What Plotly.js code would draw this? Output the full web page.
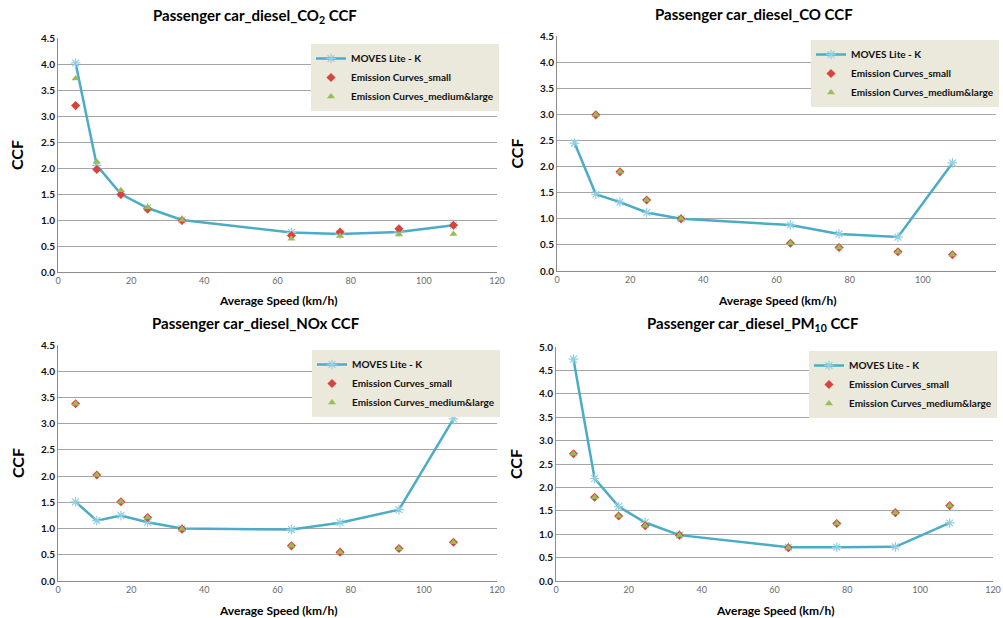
<!DOCTYPE html>
<html>
<head>
<meta charset="utf-8">
<script src="https://cdn.plot.ly/plotly-3.0.1.min.js"></script>
<style>html,body{margin:0;padding:0;background:#fff;}#chart{width:1003px;height:618px;}</style>
</head>
<body>
<div id="chart"></div>
<script>
// Average speed (km/h)
var speed = [4.8, 10.6, 17.2, 24.5, 33.9, 63.8, 77.1, 93.2, 108.1];

// CO2
var co2_moves  = [4.02, 2.05, 1.50, 1.23, 1.00, 0.76, 0.73, 0.77, 0.90];
var co2_small  = [3.20, 1.97, 1.49, 1.21, 0.99, 0.70, 0.77, 0.83, 0.90];
var co2_medium = [3.72, 2.12, 1.57, 1.24, 1.00, 0.64, 0.69, 0.72, 0.73];

// CO
var co_moves  = [2.45, 1.47, 1.32, 1.12, 1.00, 0.88, 0.71, 0.65, 2.07];
var co_small  = [null, 2.99, 1.90, 1.36, 1.00, 0.53, 0.45, 0.37, 0.31];
var co_medium = [null, 2.99, 1.90, 1.36, 1.00, 0.53, 0.45, 0.37, 0.31];

// NOx
var nox_moves  = [1.51, 1.15, 1.25, 1.12, 1.00, 0.98, 1.11, 1.36, 3.09];
var nox_small  = [3.38, 2.02, 1.51, 1.21, 0.99, 0.67, 0.55, 0.62, 0.74];
var nox_medium = [3.38, 2.02, 1.51, 1.21, 0.99, 0.67, 0.55, 0.62, 0.74];

// PM10
var pm_moves  = [4.74, 2.19, 1.59, 1.25, 0.98, 0.72, 0.72, 0.73, 1.24];
var pm_small  = [2.72, 1.79, 1.39, 1.18, 0.98, 0.71, 1.23, 1.46, 1.61];
var pm_medium = [2.72, 1.79, 1.39, 1.18, 0.98, 0.71, 1.23, 1.46, 1.61];

var seriesNames = ['MOVES Lite - K', 'Emission Curves_small', 'Emission Curves_medium&large'];
var titles = ['Passenger car_diesel_CO<sub>2</sub> CCF', 'Passenger car_diesel_CO CCF',
              'Passenger car_diesel_NOx CCF', 'Passenger car_diesel_PM<sub>10</sub> CCF'];
var xTitle = 'Average Speed (km/h)';
var yTitle = 'CCF';
var xTicks = [0, 20, 40, 60, 80, 100, 120];

var W = 1003, H = 618;
var FONT = 'Lato, "Open Sans", sans-serif';
var LINE = '#4bacc6', RED = '#d8443c', GREEN = '#9bbb59';

// plot-area boxes in pixels [left, right, top, bottom]
var boxes = [[58, 497, 38, 272], [557, 996, 36, 271], [58, 497, 345, 581], [556, 993, 347, 581]];
var yMax = [4.5, 4.5, 4.5, 5.0];
var legendPos = [[311, 44], [811, 40], [312, 350], [809, 351]];
var titlePos = [[255, 16], [754, 14], [256, 323], [753, 324]];
var data = [[co2_moves, co2_small, co2_medium], [co_moves, co_small, co_medium],
            [nox_moves, nox_small, nox_medium], [pm_moves, pm_small, pm_medium]];

var traces = [];
var layout = {
  width: W, height: H,
  margin: {l: 0, r: 0, t: 0, b: 0},
  paper_bgcolor: '#fff', plot_bgcolor: '#fff',
  font: {family: FONT, color: '#000'},
  annotations: [], showlegend: true
};

for (var i = 0; i < 4; i++) {
  var n = i + 1;
  var xa = 'x' + (n === 1 ? '' : n), ya = 'y' + (n === 1 ? '' : n);
  var lg = 'legend' + (n === 1 ? '' : n);
  var b = boxes[i];
  traces.push({
    x: speed, y: data[i][0], xaxis: xa, yaxis: ya, legend: lg, name: seriesNames[0],
    type: 'scatter', mode: 'lines+markers',
    line: {color: LINE, width: 2.5},
    marker: {symbol: 'asterisk-open', size: 8, color: '#8fd0e2', line: {color: '#8fd0e2', width: 1.2}}
  });
  traces.push({
    x: speed, y: data[i][1], xaxis: xa, yaxis: ya, legend: lg, name: seriesNames[1],
    type: 'scatter', mode: 'markers',
    marker: {symbol: 'diamond', size: 7, color: RED}
  });
  traces.push({
    x: speed, y: data[i][2], xaxis: xa, yaxis: ya, legend: lg, name: seriesNames[2],
    type: 'scatter', mode: 'markers',
    marker: {symbol: 'triangle-up', size: 7, color: GREEN}
  });
  layout['xaxis' + (n === 1 ? '' : n)] = {
    domain: [b[0] / W, b[1] / W], anchor: ya,
    range: [0, 120], tickvals: xTicks, showgrid: false, zeroline: false,
    showline: true, linecolor: '#8c8c8c', linewidth: 1, ticks: '',
    tickfont: {size: 9, color: '#6a6a6a', family: FONT}, fixedrange: true
  };
  layout['yaxis' + (n === 1 ? '' : n)] = {
    domain: [1 - b[3] / H, 1 - b[2] / H], anchor: xa,
    range: [0, yMax[i]], dtick: 0.5, tickformat: '.1f',
    showgrid: true, gridcolor: '#a6a6a6', gridwidth: 1, zeroline: false,
    showline: true, linecolor: '#8c8c8c', linewidth: 1, ticks: '',
    tickfont: {size: 10, color: '#111', family: FONT, weight: 'bold'}, fixedrange: true
  };
  layout[lg] = {
    x: legendPos[i][0] / W, y: 1 - legendPos[i][1] / H, xanchor: 'left', yanchor: 'top',
    bgcolor: '#ebe9dc', borderwidth: 0, itemwidth: 30, tracegroupgap: 0,
    font: {size: 10, family: FONT, weight: 'bold', color: '#111'}
  };
  layout.annotations.push({
    text: titles[i], xref: 'paper', yref: 'paper', x: titlePos[i][0] / W, y: 1 - titlePos[i][1] / H,
    xanchor: 'center', yanchor: 'middle', showarrow: false,
    font: {size: 15, family: FONT, weight: 'bold', color: '#000'}
  });
  layout.annotations.push({
    text: xTitle, xref: 'paper', yref: 'paper', x: ((b[0] + b[1]) / 2) / W, y: 1 - (b[3] + 29) / H,
    xanchor: 'center', yanchor: 'middle', showarrow: false,
    font: {size: 12, family: FONT, weight: 'bold', color: '#000'}
  });
  layout.annotations.push({
    text: yTitle, xref: 'paper', yref: 'paper', x: (b[0] - 41) / W, y: 1 - ((b[2] + b[3]) / 2) / H,
    xanchor: 'center', yanchor: 'middle', showarrow: false, textangle: -90,
    font: {size: 16, family: FONT, weight: 'bold', color: '#000'}
  });
}

Plotly.newPlot('chart', traces, layout, {displayModeBar: false, staticPlot: true});
</script>
</body>
</html>
